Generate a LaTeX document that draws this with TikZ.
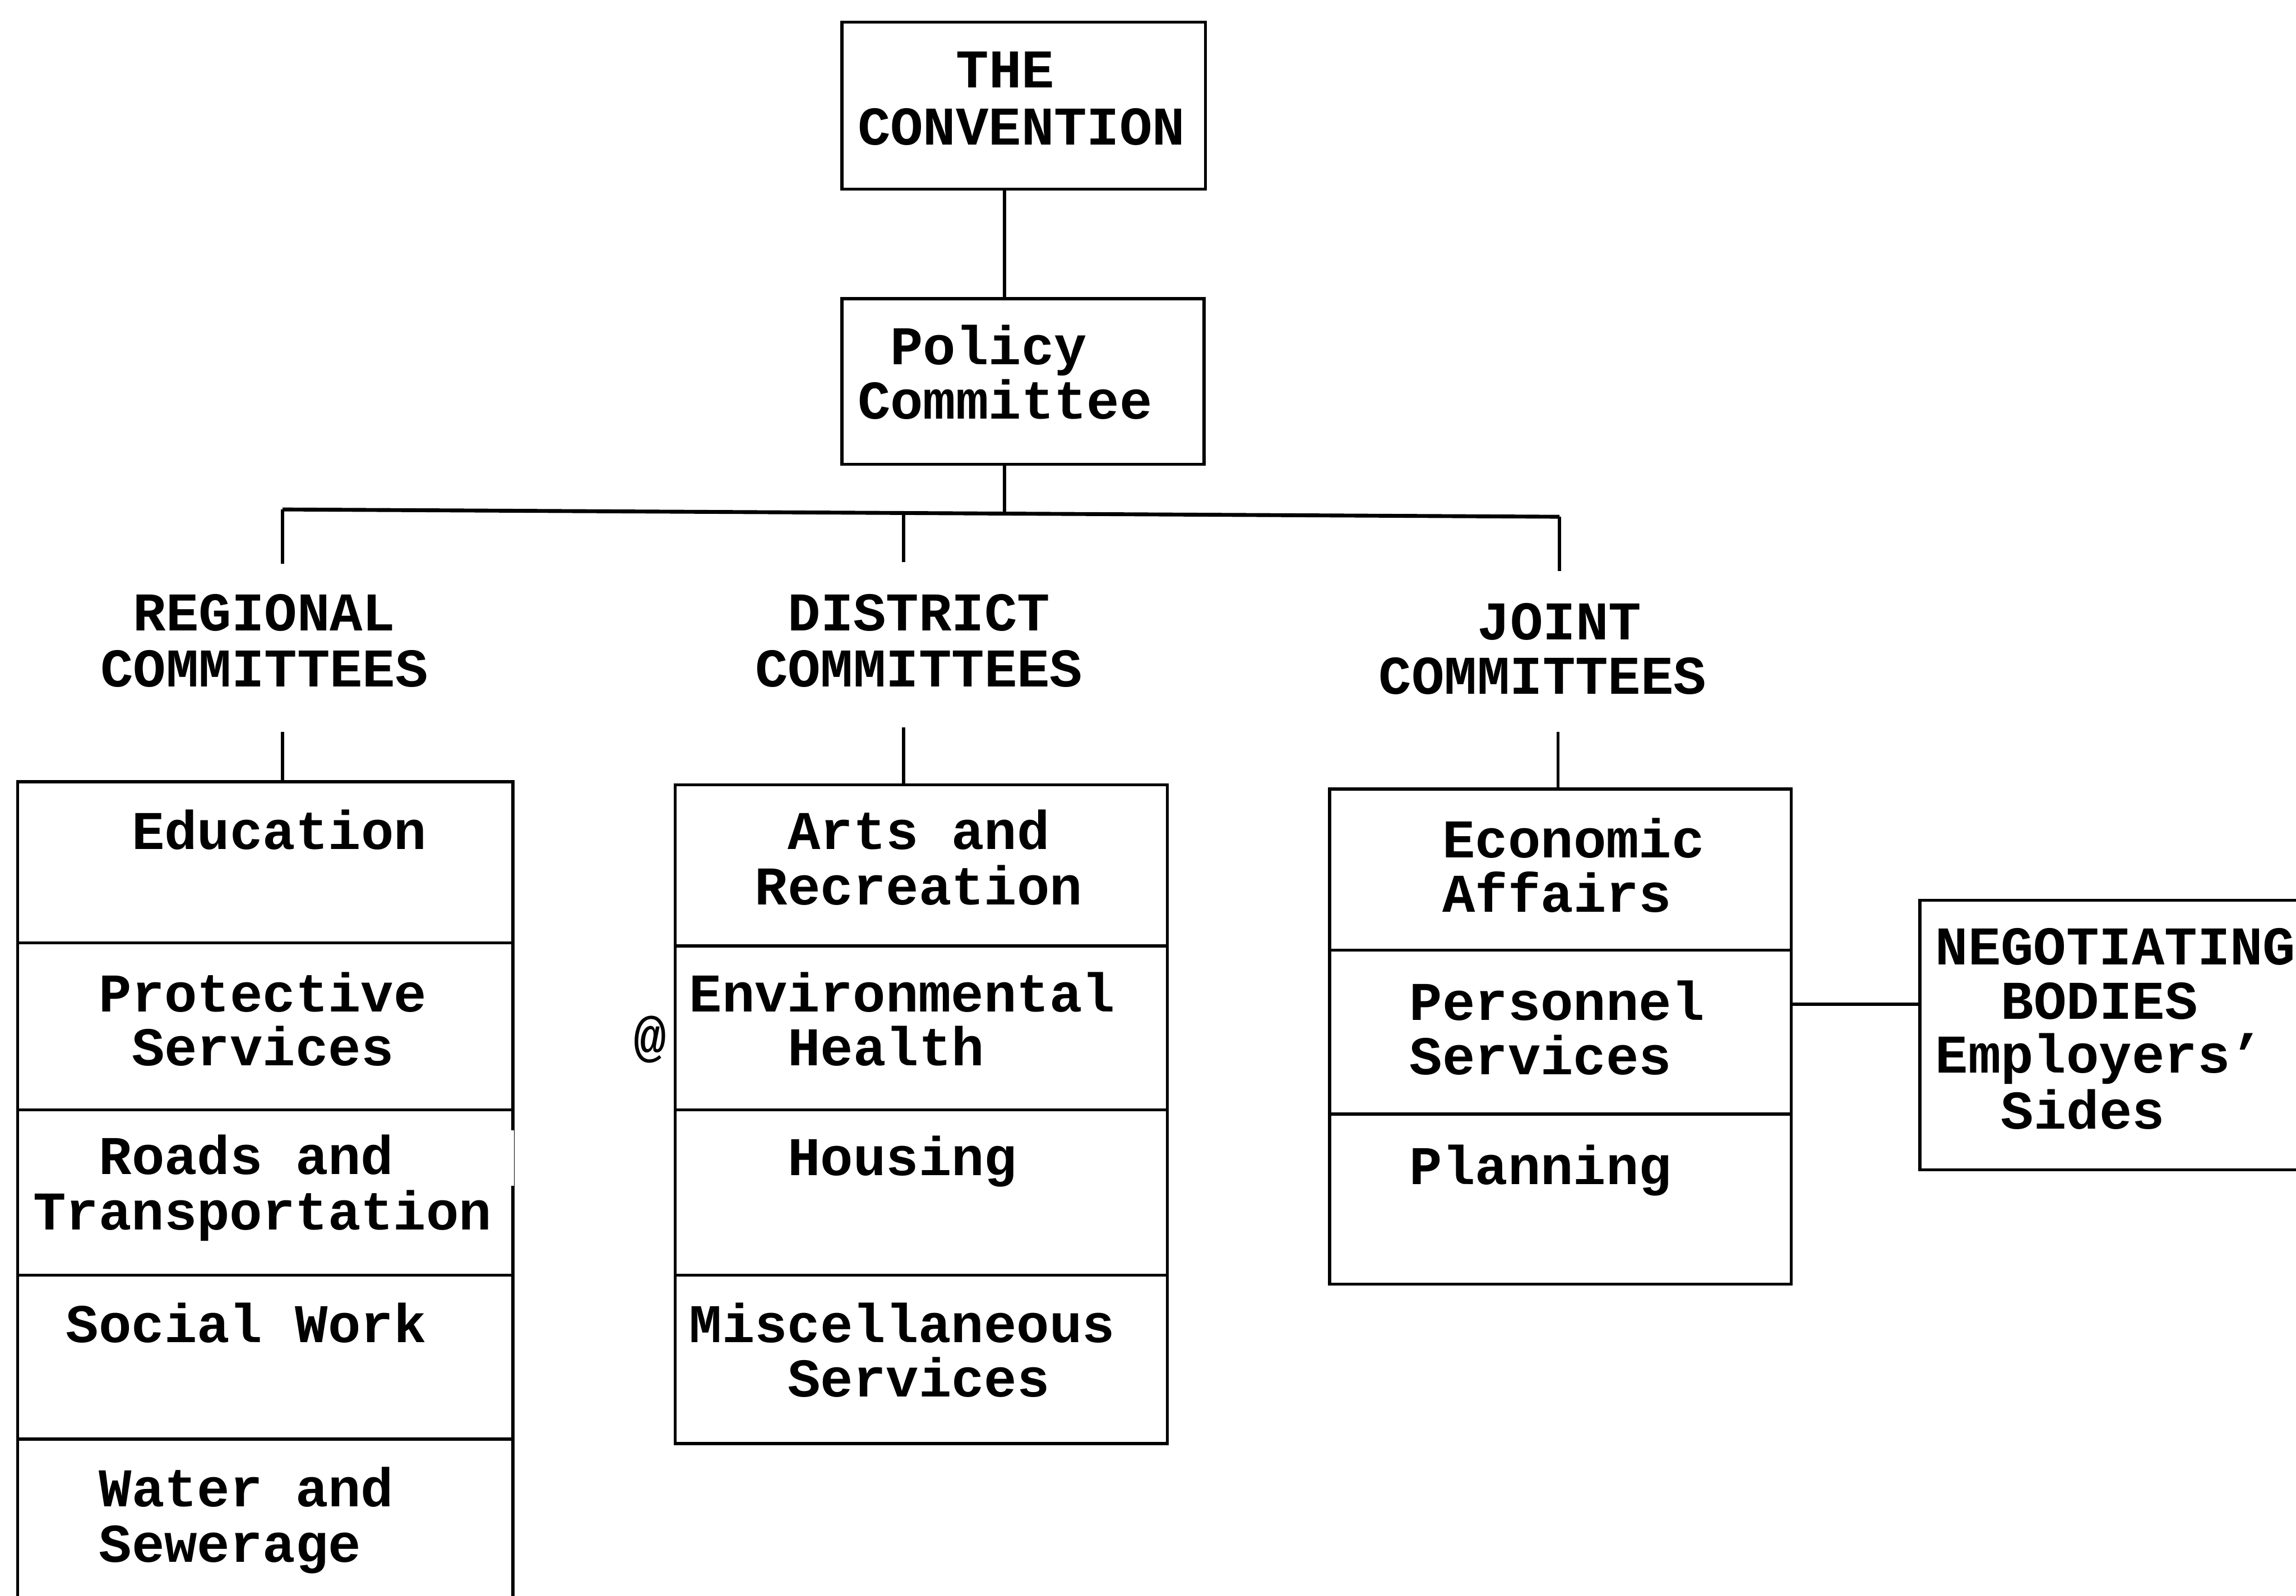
\documentclass[tikz,border=0pt]{standalone}
\usepackage{fontspec}
\setmainfont{Liberation Mono}
\begin{document}
\begin{tikzpicture}[x=0.01cm,y=-0.01cm,
  box/.style={draw, line width=0.6pt, anchor=north west, inner sep=0pt},
  lbl/.style={anchor=base west, inner sep=0pt, font=\bfseries\fontsize{10.6}{10.6}\selectfont},
  wire/.style={line width=0.6pt},
  bus/.style={line width=0.75pt}]
\useasboundingbox (0,0) rectangle (1568,1090);

% --- top of the hierarchy
\node[box, minimum width=2.48cm, minimum height=1.14cm] (conv) at (574,14) {};
\node[lbl] (conv1) at (652.3,60) {THE};
\node[lbl] (conv2) at (585,99) {CONVENTION};

\node[box, minimum width=2.47cm, minimum height=1.13cm] (pol) at (574,203) {};
\node[lbl] (pol1) at (607.4,249) {Policy};
\node[lbl] (pol2) at (585,286) {Committee};

\coordinate (cx) at (686,0);
\draw[wire] (conv.south -| cx) -- (pol.north -| cx);

% --- distribution bar
\coordinate (busL) at (193,348);
\coordinate (busM) at (617,350.4);
\coordinate (busC) at (686,350.8);
\coordinate (busR) at (1065,353);
\draw[wire] (pol.south -| cx) -- (busC);
\draw[bus] (busL) -- (busR);

% --- column headings
\node[lbl] (regh1) at (90.4,431) {REGIONAL};
\node[lbl] (regh2) at (68,469) {COMMITTEES};
\node[lbl] (disth1) at (537.4,431) {DISTRICT};
\node[lbl] (disth2) at (515,469) {COMMITTEES};
\node[lbl] (jnth1) at (1008.3,437) {JOINT};
\node[lbl] (jnth2) at (941,474) {COMMITTEES};

\coordinate (regIn) at (193,385);
\coordinate (regOut) at (193,500);
\coordinate (distIn) at (617,384);
\coordinate (distOut) at (617,497);
\coordinate (jntIn) at (1065,390);
\coordinate (jntOut) at (1064,500);
\draw[wire] (busL) -- (regIn);
\draw[wire] (busM) -- (distIn);
\draw[wire] (busR) -- (jntIn);

% --- regional committees
\node[box, minimum width=3.38cm, minimum height=1.10cm] (reg1) at (11,533) {};
\node[box, minimum width=3.38cm, minimum height=1.14cm] (reg2) at (11,643) {};
\node[box, minimum width=3.38cm, minimum height=1.13cm] (reg3) at (11,757) {};
\node[box, minimum width=3.38cm, minimum height=1.12cm] (reg4) at (11,870) {};
\node[box, minimum width=3.38cm, minimum height=1.40cm] (reg5) at (11,982) {};
\draw[white, line width=1.2pt] (349,772) -- (349,810);
\draw[wire] (regOut) -- (reg1.north -| regOut);

\node[lbl] (reg1a) at (89.3,580) {Education};
\node[lbl] (reg2a) at (66.9,691) {Protective};
\node[lbl] (reg2b) at (89.3,728) {Services};
\node[lbl] (reg3a) at (66.9,802) {Roads and};
\node[lbl] (reg3b) at (22,840) {Transportation};
\node[lbl] (reg4a) at (44.4,917) {Social Work};
\node[lbl] (reg5a) at (66.9,1029) {Water and};
\node[lbl] (reg5b) at (66.9,1067) {Sewerage};

% --- district committees
\node[box, minimum width=3.36cm, minimum height=1.10cm] (dist1) at (460,535) {};
\node[box, minimum width=3.36cm, minimum height=1.12cm] (dist2) at (460,645) {};
\node[box, minimum width=3.36cm, minimum height=1.13cm] (dist3) at (460,757) {};
\node[box, minimum width=3.36cm, minimum height=1.15cm] (dist4) at (460,870) {};
\draw[wire] (distOut) -- (dist1.north -| distOut);

\node[lbl] (dist1a) at (537.3,580) {Arts and};
\node[lbl] (dist1b) at (514.9,618) {Recreation};
\node[lbl] (dist2a) at (470,691) {Environmental};
\node[lbl] (dist2b) at (537.3,728) {Health};
\node[lbl] (dist3a) at (537.3,803) {Housing};
\node[lbl] (dist4a) at (470,917) {Miscellaneous};
\node[lbl] (dist4b) at (537.3,954) {Services};
\node[lbl] (mark) at (432,721) {@};

% --- joint committees
\node[box, minimum width=3.15cm, minimum height=1.10cm] (jnt1) at (907,538) {};
\node[box, minimum width=3.15cm, minimum height=1.12cm] (jnt2) at (907,648) {};
\node[box, minimum width=3.15cm, minimum height=1.16cm] (jnt3) at (907,760) {};
\draw[wire] (jntOut) -- (jnt1.north -| jntOut);

\node[lbl] (jnt1a) at (984.4,586) {Economic};
\node[lbl] (jnt1b) at (984.4,623) {Affairs};
\node[lbl] (jnt2a) at (962,697) {Personnel};
\node[lbl] (jnt2b) at (962,734) {Services};
\node[lbl] (jnt3a) at (962,809) {Planning};

% --- negotiating bodies
\node[box, minimum width=3.0cm, minimum height=1.84cm] (neg) at (1310,614) {};
\node[lbl] (neg1) at (1321,659) {NEGOTIATING};
\node[lbl] (neg2) at (1365.9,696) {BODIES};
\node[lbl] (neg3) at (1321,733) {Employers'};
\node[lbl] (neg4) at (1365.9,771) {Sides};

\coordinate (lnk) at (0,686);
\draw[wire] (jnt2.east |- lnk) -- (neg.west |- lnk);
\end{tikzpicture}
\end{document}
